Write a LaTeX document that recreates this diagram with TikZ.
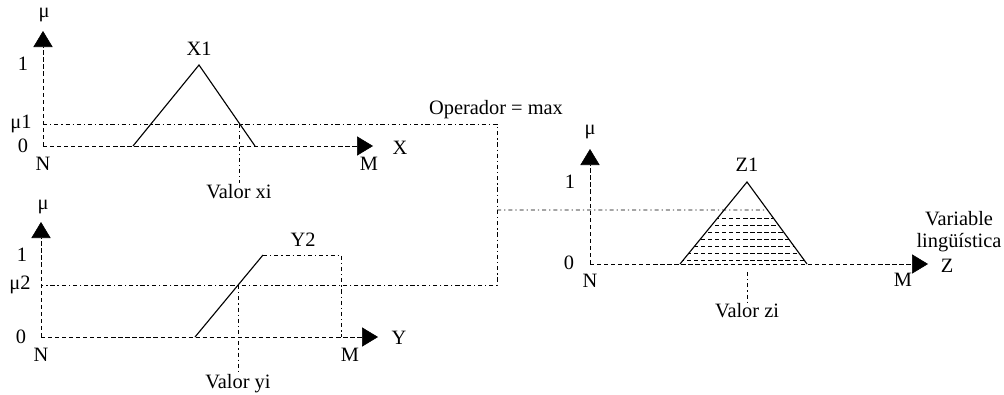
\documentclass[tikz,border=0pt]{standalone}
\usepackage{fontspec}
\setmainfont{Liberation Serif}
\usetikzlibrary{positioning, calc, arrows.meta}

\begin{document}
\begin{tikzpicture}[
		x=0.025cm, y=-0.025cm,
		lbl/.style={font=\fontsize{14.5}{15.5}\selectfont, inner sep=1pt},
		axis/.style={densely dashed, thin, -{Triangle[length=0.4cm, width=0.48cm]}},
		guide/.style={thin, dash pattern=on 3pt off 2pt on 1pt off 2pt},
		mf/.style={line width=0.8pt},
		hatch/.style={densely dashed, line width=0.3pt},
	]
	\useasboundingbox (0,0) rectangle (1004,394);

	% variable X
	\coordinate (xo) at (43,146);
	\coordinate (xtip) at (43,31);
	\coordinate (xend) at (373,146);
	\draw[axis] (xo) -- (xtip);
	\draw[axis] (xo) -- (xend);
	\node[lbl] (xmu) at (44,15) {μ};
	\node[lbl] (xone) at (23,64) {1};
	\node[lbl] (xmuone) at (21,124) {μ1};
	\node[lbl] (xzero) at (23,146) {0};
	\node[lbl] (xn) at (43,164) {N};
	\node[lbl] (xm) at (369,164) {M};
	\node[lbl] (xlab) at (400,148) {X};
	\node[lbl] (xset) at (199,49) {X1};
	\node[lbl] (xval) at (239,192) {Valor xi};
	\coordinate (xa) at (133,146);
	\coordinate (xb) at (199,65);
	\coordinate (xc) at (255,146);
	\draw[mf] (xa) -- (xb) -- (xc);

	% variable Y
	\coordinate (yo) at (41,337);
	\coordinate (ytip) at (41,222);
	\coordinate (yend) at (378,337);
	\draw[axis] (yo) -- (ytip);
	\draw[axis] (yo) -- (yend);
	\node[lbl] (ymu) at (43,207) {μ};
	\node[lbl] (yone) at (22,255) {1};
	\node[lbl] (ymutwo) at (20,285) {μ2};
	\node[lbl] (yzero) at (21,337) {0};
	\node[lbl] (yn) at (41,355) {N};
	\node[lbl] (ym) at (350,355) {M};
	\node[lbl] (ylab) at (399,338) {Y};
	\node[lbl] (yset) at (303,240) {Y2};
	\node[lbl] (yval) at (238,384) {Valor yi};
	\coordinate (ya) at (195,337);
	\coordinate (yb) at (263,255);
	\coordinate (yc) at (341,255);
	\coordinate (yd) at (341,337);
	\draw[mf] (ya) -- (yb);
	\draw[guide] (yb) -- (yc) -- (yd);

	% variable Z
	\coordinate (zo) at (590,264);
	\coordinate (ztip) at (590,149);
	\coordinate (zend) at (928,264);
	\draw[axis] (zo) -- (ztip);
	\draw[axis] (zo) -- (zend);
	\node[lbl] (zmu) at (590,132) {μ};
	\node[lbl] (zone) at (570,182) {1};
	\node[lbl] (zzero) at (569,263) {0};
	\node[lbl] (zn) at (590,281) {N};
	\node[lbl] (zm) at (903,280) {M};
	\node[lbl] (zlab) at (947,266) {Z};
	\node[lbl, align=center] (zvar) at (959,232) {Variable\\lingüística};
	\node[lbl] (zset) at (747,165) {Z1};
	\node[lbl] (zval) at (747,311) {Valor zi};
	\coordinate (za) at (680,264);
	\coordinate (zb) at (747,182);
	\coordinate (zc) at (807,264);
	\begin{scope}
		\clip (za) -- (zb) -- (zc) -- cycle;
		\foreach \h in {218,225,...,260}
		\draw[hatch] (680,\h) -- (807,\h);
	\end{scope}
	\draw[mf] (za) -- (zb) -- (zc);

	% max operator
	\node[lbl] (oper) at (496,110) {Operador = max};
	\coordinate (xlvl) at (43,124);
	\coordinate (ylvl) at (41,285);
	\coordinate (topcorner) at (497,124);
	\coordinate (botcorner) at (497,285);
	\coordinate (zjoin) at (497,210);
	\coordinate (zcut) at ($(zb)!0.3415!(zc)$);
	\draw[guide] (xlvl) -- (topcorner) -- (botcorner) -- (ylvl);
	\draw[guide] (zjoin) -- (zcut);

	% crisp values
	\coordinate (xcut) at (239,124);
	\coordinate (ycut) at (238,285);
	\coordinate (ztop) at (747,272);
	\draw[guide] (xcut) -- (xval.north);
	\draw[guide] (ycut) -- (yval.north);
	\draw[guide] (ztop) -- (zval.north);
\end{tikzpicture}
\end{document}
